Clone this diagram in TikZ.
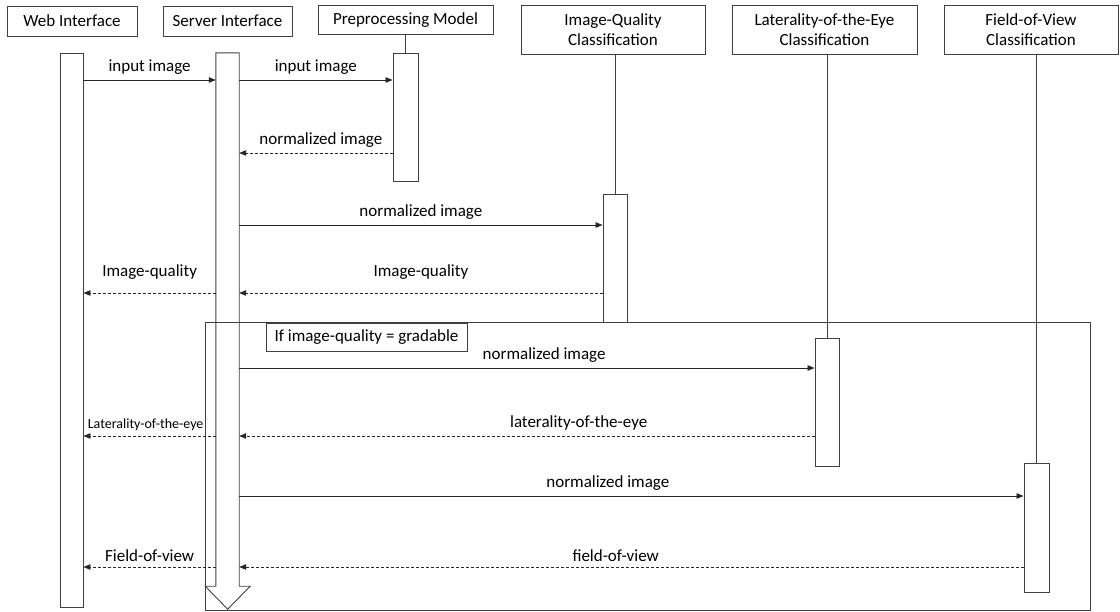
\documentclass[tikz,border=0pt]{standalone}
\usepackage{fontspec}
\setmainfont{Carlito}
\usetikzlibrary{arrows.meta}
\tikzset{
  actor/.style={draw=black!75, line width=0.9pt, align=center, inner sep=0pt,
    font=\fontsize{17}{20}\selectfont},
  bar/.style={draw=black!75, line width=0.9pt, inner sep=0pt},
  life/.style={draw=black!75, line width=0.9pt},
  msg/.style={-{Triangle[length=7pt,width=5.5pt]}, draw=black!85, line width=0.8pt},
  reply/.style={msg, dash pattern=on 3pt off 2pt},
  lbl/.style={font=\fontsize{17}{20}\selectfont, inner sep=1pt, above=4pt},
}
\begin{document}
\begin{tikzpicture}[x=1pt,y=-1pt]
  \useasboundingbox (0,0) rectangle (1120,611);
  % participants
  \node[actor, minimum width=130pt, minimum height=30pt] (web) at (72,21) {Web Interface};
  \node[actor, minimum width=129pt, minimum height=30pt] (server) at (227.5,21) {Server Interface};
  \node[actor, minimum width=175pt, minimum height=29pt] (prep) at (405.5,20) {Preprocessing Model};
  \node[actor, minimum width=184pt, minimum height=49pt] (iq) at (613,29.5) {Image-Quality\\Classification};
  \node[actor, minimum width=185pt, minimum height=49pt] (lat) at (824.5,29.5) {Laterality-of-the-Eye\\Classification};
  \node[actor, minimum width=174pt, minimum height=49pt] (fov) at (1031,29.5) {Field-of-View\\Classification};
  % activation bars
  \node[bar, minimum width=23pt, minimum height=554pt] (webbar) at (71.5,330) {};
  \node[inner sep=0pt, minimum width=23pt, minimum height=533pt] (srvbar) at (227.5,319.5) {};
  \node[bar, minimum width=25pt, minimum height=128pt] (prepbar) at (405.5,117) {};
  \node[bar, minimum width=24pt, minimum height=128pt] (iqbar) at (615,258) {};
  \node[bar, minimum width=24pt, minimum height=128pt] (latbar) at (827,402) {};
  \node[bar, minimum width=25pt, minimum height=129pt] (fovbar) at (1036.5,527.5) {};
  \draw[life] (srvbar.south west) -- (srvbar.north west) -- (srvbar.north east)
    -- (srvbar.south east) -- ++(11,0) -- ++(-22.5,23) -- ++(-22.5,-23) -- cycle;
  % lifelines
  \draw[life] (prep) -- (prepbar);
  \draw[life] (iq.south -| iqbar) -- (iqbar.north);
  \draw[life] (lat.south -| latbar) -- (latbar.north);
  \draw[life] (fov.south -| fovbar) -- (fovbar.north);
  % alt frame
  \node[bar, minimum width=885pt, minimum height=288pt] (frame) at (647.5,466) {};
  \node[actor, minimum width=201pt, minimum height=28pt] (guard) at (366.5,337) {If image-quality = gradable};
  % message rows
  \coordinate (r1) at (0,80);
  \coordinate (r2) at (0,153);
  \coordinate (r3) at (0,225);
  \coordinate (r4) at (0,293);
  \coordinate (r5) at (0,368);
  \coordinate (r6) at (0,436);
  \coordinate (r7) at (0,496);
  \coordinate (r8) at (0,567);
  \begin{scope}
    \draw[msg] (webbar.east |- r1) -- node[lbl]{input image} (srvbar.west |- r1);
    \draw[msg] (srvbar.east |- r1) -- node[lbl]{input image} (prepbar.west |- r1);
    \draw[reply] (prepbar.west |- r2) -- node[lbl, xshift=5pt]{normalized image} (srvbar.east |- r2);
    \draw[msg] (srvbar.east |- r3) -- node[lbl]{normalized image} (iqbar.west |- r3);
    \draw[reply] (iqbar.west |- r4) -- node[lbl, above=8pt]{Image-quality} (srvbar.east |- r4);
    \draw[reply] (srvbar.west |- r4) -- node[lbl, above=8pt]{Image-quality} (webbar.east |- r4);
    \draw[msg] (srvbar.east |- r5) -- node[lbl, pos=0.53]{normalized image} (latbar.west |- r5);
    \draw[reply] (latbar.west |- r6) -- node[lbl, pos=0.41]{laterality-of-the-eye} (srvbar.east |- r6);
    \draw[reply] (srvbar.west |- r6) -- node[lbl, font=\fontsize{14}{16}\selectfont, xshift=-4pt]{Laterality-of-the-eye} (webbar.east |- r6);
    \draw[msg] (srvbar.east |- r7) -- node[lbl, pos=0.47]{normalized image} (fovbar.west |- r7);
    \draw[reply] (fovbar.west |- r8) -- node[lbl, pos=0.52]{field-of-view} (srvbar.east |- r8);
    \draw[reply] (srvbar.west |- r8) -- node[lbl]{Field-of-view} (webbar.east |- r8);
  \end{scope}
\end{tikzpicture}
\end{document}
